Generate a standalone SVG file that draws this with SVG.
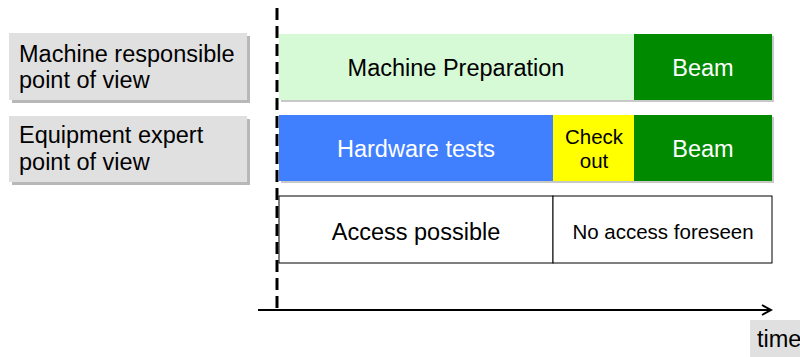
<svg xmlns="http://www.w3.org/2000/svg" width="800" height="357" viewBox="0 0 800 357">
<defs>
<style>
text{font-family:"Liberation Sans",Arial,sans-serif;font-size:23.5px;fill:#000}
.c{text-anchor:middle}
.w{fill:#fff}
.s{font-size:20.5px}
.lbl{fill:#e0e0e0}
.sh{fill:#b8b8b8}
</style>
<marker id="ah" markerWidth="12" markerHeight="12" refX="10" refY="6" orient="auto" markerUnits="userSpaceOnUse">
<path d="M1,1 L10,6 L1,11" fill="none" stroke="#000" stroke-width="2"/>
</marker>
</defs>
<g id="label-machine">
<rect class="sh" x="12" y="36" width="238" height="67"/>
<rect class="lbl" x="9" y="33" width="238" height="67"/>
<text x="19" y="62">Machine responsible</text>
<text x="19" y="88">point of view</text>
</g>
<g id="label-equipment">
<rect class="sh" x="12" y="119" width="238" height="66"/>
<rect class="lbl" x="9" y="116" width="238" height="66"/>
<text x="19" y="143">Equipment expert</text>
<text x="19" y="170">point of view</text>
</g>
<g id="row1">
<rect x="281" y="36" width="493" height="66" fill="#c8c8c8"/>
<rect x="279" y="34" width="355" height="66" fill="#d6fad6"/>
<text class="c" x="456" y="76">Machine Preparation</text>
</g>
<g id="beam1">
<rect x="634" y="34" width="138" height="66" fill="#008a00"/>
<text class="c w" x="703" y="76">Beam</text>
</g>
<g id="row2">
<rect x="281" y="117" width="493" height="66" fill="#c8c8c8"/>
<rect x="279" y="115" width="274" height="66" fill="#4080ff"/>
<text class="c w" x="416" y="157">Hardware tests</text>
</g>
<g id="checkout">
<rect x="553" y="115" width="81" height="66" fill="#ffff00"/>
<text class="c s" x="594" y="144">Check</text>
<text class="c s" x="594" y="168">out</text>
</g>
<g id="beam2">
<rect x="634" y="115" width="138" height="66" fill="#008a00"/>
<text class="c w" x="703" y="157">Beam</text>
</g>
<g id="access">
<rect x="279" y="196" width="274" height="67" fill="#fff" stroke="#000" stroke-width="1"/>
<text class="c" x="416" y="240">Access possible</text>
</g>
<g id="noaccess">
<rect x="553" y="196" width="219" height="67" fill="#fff" stroke="#000" stroke-width="1"/>
<text class="c s" x="663" y="239">No access foreseen</text>
</g>
<g id="time-label">
<rect x="750" y="320" width="50" height="37" fill="#e0e0e0"/>
<text x="757" y="347">time</text>
</g>
<g id="connectors">
<line x1="277" y1="8" x2="277" y2="310" stroke="#000" stroke-width="3" stroke-dasharray="12,6"/>
<line x1="258" y1="310" x2="771" y2="310" stroke="#000" stroke-width="2" marker-end="url(#ah)"/>
</g>
</svg>
